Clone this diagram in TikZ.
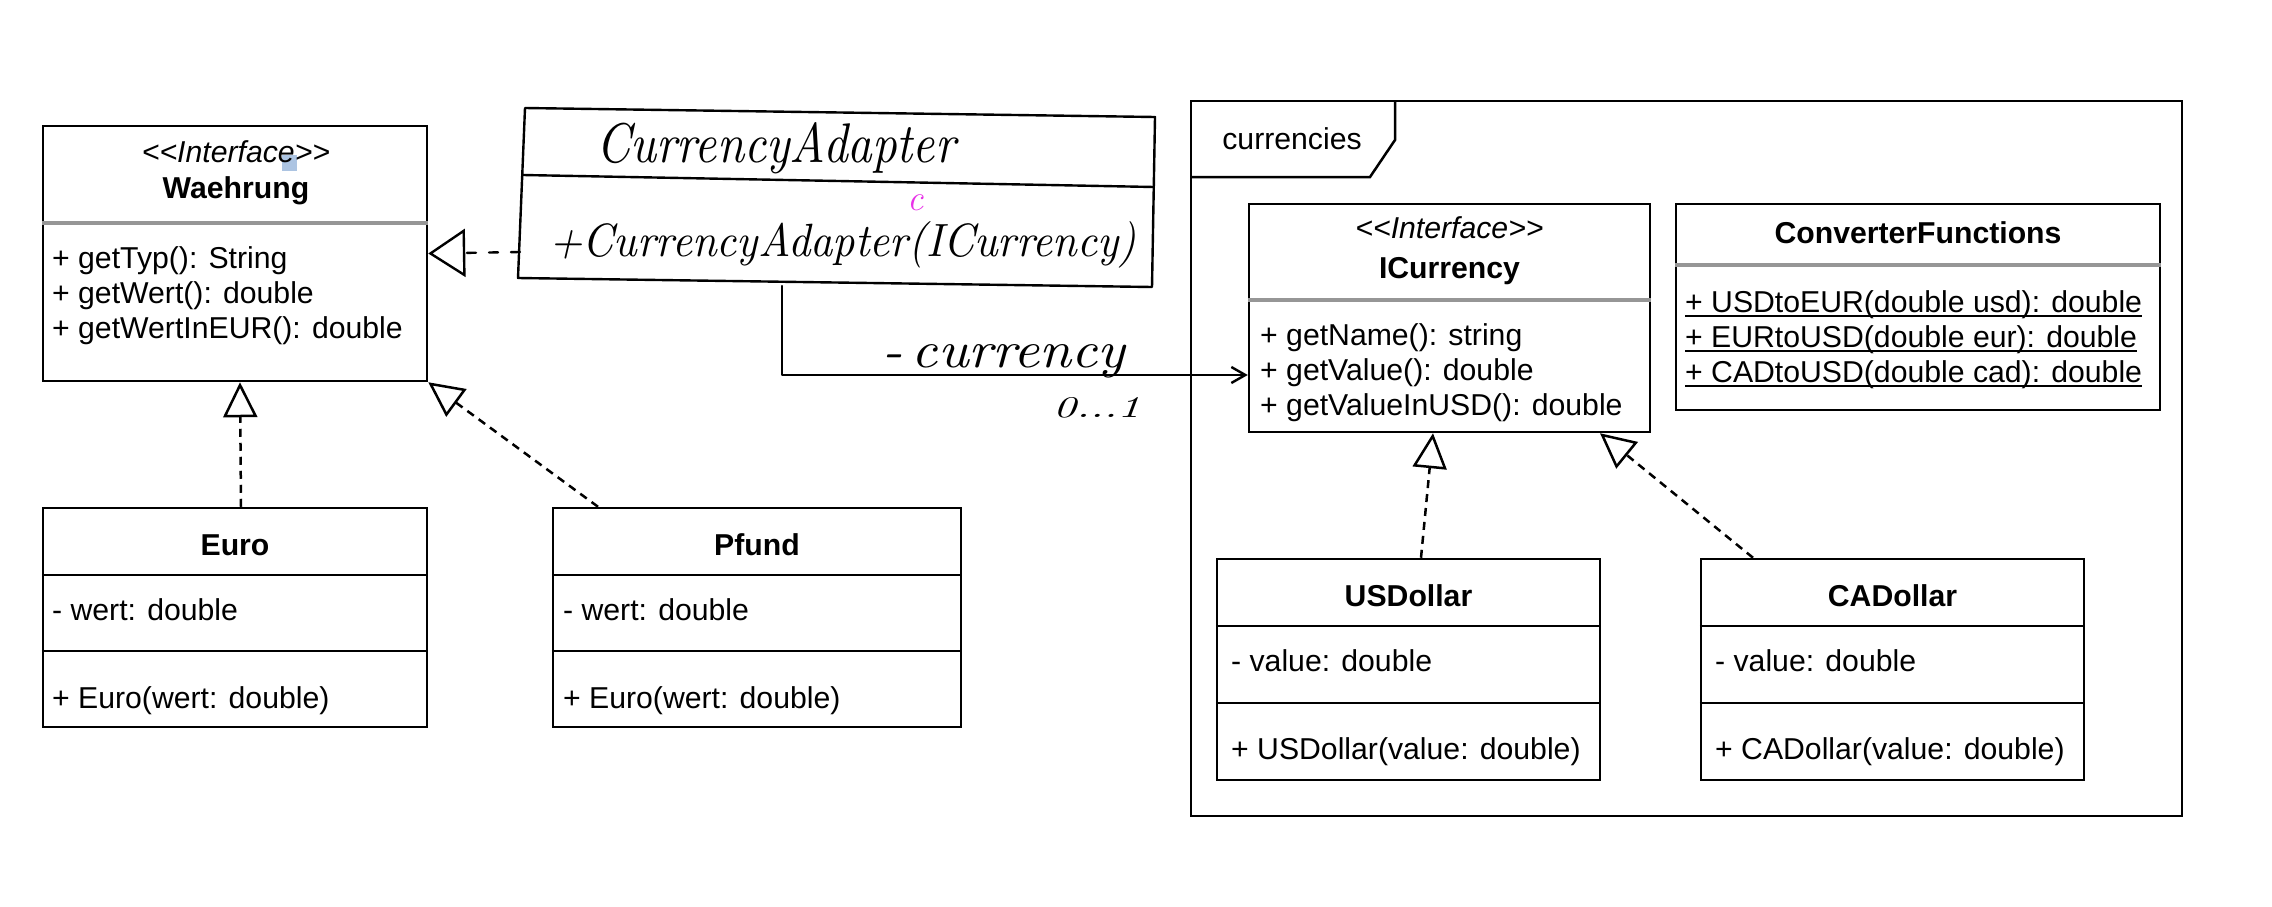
\documentclass[tikz,border=0pt]{standalone}
\usepackage{fontspec}
\usepackage{graphicx}
\setmainfont{Liberation Sans}
\newfontfamily\handfont{Latin Modern Roman}
\usetikzlibrary{arrows.meta}

\definecolor{divgray}{RGB}{150,150,150}
\definecolor{marker}{RGB}{232,48,232}
\definecolor{selblue}{RGB}{172,196,226}

\newcommand\umlfont{\fontsize{30.2}{36}\selectfont}
\newcommand\stereoL{<\kern0pt<}
\newcommand\stereoR{>\kern0pt>}
\newcommand\handtext[3]{\resizebox{#1}{#2}{\handfont\itshape #3}}

\begin{document}
\begin{tikzpicture}[x=1pt,y=-1pt,
  box/.style={draw=black, line width=2.5pt, inner sep=0pt},
  member/.style={anchor=base west, inner sep=0pt, font=\umlfont},
  heading/.style={anchor=base, inner sep=0pt, font=\umlfont\bfseries},
  stereo/.style={anchor=base, inner sep=0pt, font=\umlfont\itshape},
  blacksep/.style={line width=2.5pt},
  graysep/.style={line width=3.5pt, draw=divgray},
  realize/.style={line width=2.5pt, dash pattern=on 8pt off 6pt,
    -{Triangle[open, length=35pt, width=34pt, line width=2.5pt]}},
  pen/.style={line width=2.4pt, line join=round, line cap=round},
  handreal/.style={pen, dash pattern=on 9pt off 13pt,
    -{Triangle[open, length=37pt, width=48pt, line width=2.4pt]}},
  assoc/.style={pen, -{Straight Barb[length=14pt, width=16pt, line width=2.4pt]}},
  handlabel/.style={inner sep=0pt, anchor=base west},
]
\fill[white] (0,0) rectangle (2272,907);
\useasboundingbox (0,0) rectangle (2272,907);

% ---------- Waehrung (interface) ----------
\node[box, minimum width=384pt, minimum height=255pt] (waeh) at (235,253.5) {};
\fill[selblue] (282,155) rectangle (297,171);
\node[stereo] (waeh-st) at (236,162) {\stereoL Interface\stereoR};
\node[heading] (waeh-name) at (236,198) {Waehrung};
\draw[graysep] (waeh.west |- 0,223) -- (waeh.east |- 0,223);
\node[member] (waeh-m1) at (52,268) {+ getTyp(): String};
\node[member] (waeh-m2) at (52,303) {+ getWert(): double};
\node[member] (waeh-m3) at (52,338) {+ getWertInEUR(): double};

% ---------- Euro ----------
\node[box, minimum width=384pt, minimum height=219pt] (euro) at (235,617.5) {};
\node[heading] (euro-name) at (235,555) {Euro};
\draw[blacksep] (euro.west |- 0,575) -- (euro.east |- 0,575);
\draw[blacksep] (euro.west |- 0,651) -- (euro.east |- 0,651);
\node[member] (euro-a) at (52,620) {- wert: double};
\node[member] (euro-c) at (52,708) {+ Euro(wert: double)};

% ---------- Pfund ----------
\node[box, minimum width=408pt, minimum height=219pt] (pfund) at (757,617.5) {};
\node[heading] (pfund-name) at (757,555) {Pfund};
\draw[blacksep] (pfund.west |- 0,575) -- (pfund.east |- 0,575);
\draw[blacksep] (pfund.west |- 0,651) -- (pfund.east |- 0,651);
\node[member] (pfund-a) at (563,620) {- wert: double};
\node[member] (pfund-c) at (563,708) {+ Euro(wert: double)};

% ---------- realizations of Waehrung ----------
\draw[realize] (euro.north -| 241,0) -- (waeh.south -| 240,0);
\draw[realize] (pfund.north -| 598,0) -- (waeh.south east);

% ---------- CurrencyAdapter (pen sketch) ----------
\draw[pen] (525,108) -- (1155,117) -- (1152,287) -- (518,278) -- cycle;
\draw[pen] (523,175) -- (1154,187);
\coordinate (ca-w) at (520,252);
\coordinate (ca-s) at (782,286);
\node[handlabel] (ca-name) at (596,162) {\handtext{359pt}{40pt}{CurrencyAdapter}};
\node[handlabel] (ca-ctor) at (549,256) {\handtext{587pt}{35pt}{+CurrencyAdapter(ICurrency)}};
\node[inner sep=0pt, text=marker, font=\fontsize{36}{36}\selectfont\handfont\itshape] (ca-fix) at (916,203) {c};

\draw[handreal] (ca-w) -- (waeh.east);

% ---------- package frame ----------
\node[box, minimum width=991pt, minimum height=715pt] (frame) at (1686.5,458.5) {};
\draw[line width=2.5pt] (1191,177) -- (1370,177) -- (1395,140) -- (1395,101);
\node[inner sep=0pt, anchor=base, font=\umlfont] (frame-label) at (1292,149) {currencies};

% ---------- ICurrency (interface) ----------
\node[box, minimum width=401pt, minimum height=228pt] (icur) at (1449.5,318) {};
\node[stereo] (icur-st) at (1449.5,238) {\stereoL Interface\stereoR};
\node[heading] (icur-name) at (1449.5,278) {ICurrency};
\draw[graysep] (icur.west |- 0,300) -- (icur.east |- 0,300);
\node[member] (icur-m1) at (1260,345) {+ getName(): string};
\node[member] (icur-m2) at (1260,380) {+ getValue(): double};
\node[member] (icur-m3) at (1260,415) {+ getValueInUSD(): double};

% ---------- ConverterFunctions ----------
\node[box, minimum width=484pt, minimum height=206pt] (conv) at (1918,307) {};
\node[heading] (conv-name) at (1918,243) {ConverterFunctions};
\draw[graysep] (conv.west |- 0,265) -- (conv.east |- 0,265);
\node[member] (conv-m1) at (1685,312) {+ USDtoEUR(double usd): double};
\node[member] (conv-m2) at (1685,347) {+ EURtoUSD(double eur): double};
\node[member] (conv-m3) at (1685,382) {+ CADtoUSD(double cad): double};
\foreach \m in {conv-m1,conv-m2,conv-m3}
  \draw[line width=2.6pt] ([yshift=-4pt]\m.base west) -- ([yshift=-4pt]\m.base east);

% ---------- USDollar ----------
\node[box, minimum width=383pt, minimum height=221pt] (usd) at (1408.5,669.5) {};
\node[heading] (usd-name) at (1408.5,606) {USDollar};
\draw[blacksep] (usd.west |- 0,626) -- (usd.east |- 0,626);
\draw[blacksep] (usd.west |- 0,703) -- (usd.east |- 0,703);
\node[member] (usd-a) at (1231,671) {- value: double};
\node[member] (usd-c) at (1231,759) {+ USDollar(value: double)};

% ---------- CADollar ----------
\node[box, minimum width=383pt, minimum height=221pt] (cad) at (1892.5,669.5) {};
\node[heading] (cad-name) at (1892.5,606) {CADollar};
\draw[blacksep] (cad.west |- 0,626) -- (cad.east |- 0,626);
\draw[blacksep] (cad.west |- 0,703) -- (cad.east |- 0,703);
\node[member] (cad-a) at (1715,671) {- value: double};
\node[member] (cad-c) at (1715,759) {+ CADollar(value: double)};

% ---------- realizations of ICurrency ----------
\draw[realize] (usd.north -| 1421,0) -- (icur.south -| 1433,0);
\draw[realize] (cad.north -| 1753,0) -- (icur.south -| 1600,0);

% ---------- association CurrencyAdapter -> ICurrency ----------
\draw[assoc] (ca-s) |- (icur.west |- 0,375);
\node[handlabel] (assoc-role) at (882,367) {\handtext{243pt}{23pt}{-\,currency}};
\node[handlabel] (assoc-mult) at (1053,417) {\handtext{87pt}{20pt}{0...1}};

\end{tikzpicture}
\end{document}
